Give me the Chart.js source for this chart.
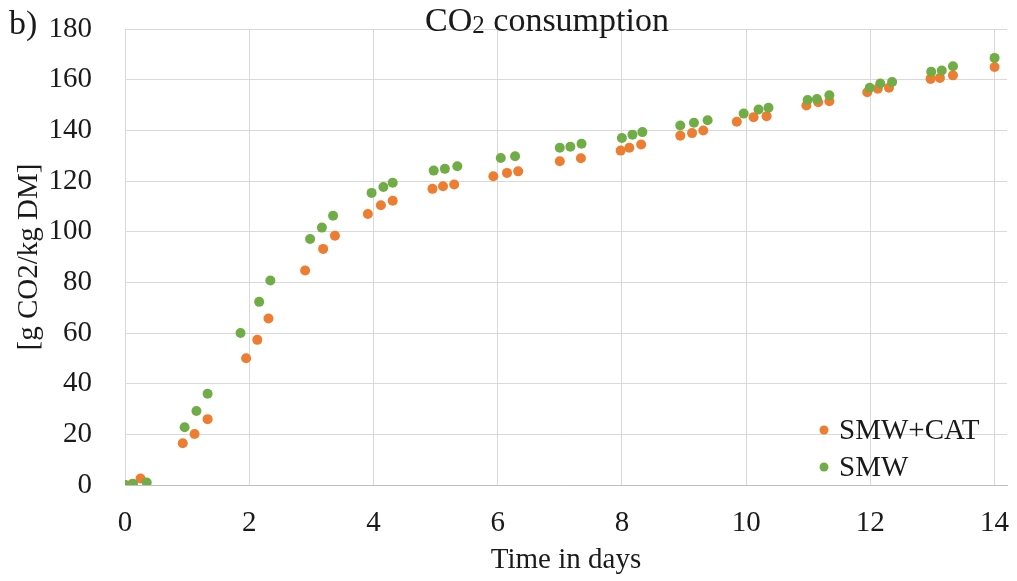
<!DOCTYPE html>
<html>
<head>
<meta charset="utf-8">
<script src="https://cdn.jsdelivr.net/npm/chart.js@4.4.0/dist/chart.umd.min.js"></script>
<style>
  html, body { margin: 0; padding: 0; background: #fff; }
  #wrap { width: 1017px; height: 581px; position: relative; }
</style>
</head>
<body>
<div id="wrap"><canvas id="myChart"></canvas></div>
<script>
// time (days) and CO2 consumption for both mixtures
const catDays = [0, 0.12, 0.25, 0.93, 1.12, 1.33, 1.95, 2.13, 2.31, 2.9, 3.19, 3.38, 3.91, 4.12, 4.31,
  4.95, 5.12, 5.3, 5.93, 6.15, 6.33, 7.0, 7.34, 7.98, 8.12, 8.31, 8.94, 9.13, 9.31, 9.85, 10.12, 10.33,
  10.97, 11.16, 11.34, 11.95, 12.12, 12.3, 12.97, 13.12, 13.33, 14];
const catValues = [0, 0.5, 2.6, 16.5, 20.1, 26, 50, 57.3, 65.7, 84.7, 93.2, 98.4, 107, 110.4, 112.2,
  116.9, 117.9, 118.6, 121.9, 123.2, 123.8, 127.8, 129, 132, 133.1, 134.4, 137.9, 138.9, 139.9, 143.4, 145.2, 145.6,
  149.8, 151.1, 151.5, 155, 156.4, 156.8, 160.3, 160.7, 161.7, 165];

const smwDays = [0, 0.13, 0.35, 0.96, 1.15, 1.33, 1.86, 2.16, 2.34, 2.98, 3.17, 3.35, 3.97, 4.16, 4.31,
  4.97, 5.15, 5.35, 6.05, 6.28, 7.0, 7.17, 7.35, 8.0, 8.17, 8.33, 8.94, 9.16, 9.38, 9.96, 10.2, 10.36,
  10.99, 11.14, 11.34, 11.99, 12.16, 12.35, 12.98, 13.15, 13.33, 14];
const smwValues = [0, 0.4, 1, 22.8, 29.2, 36, 60, 72.3, 80.7, 97.1, 101.6, 106.3, 115.3, 117.6, 119.3,
  124.1, 124.8, 125.8, 129.1, 129.8, 133.1, 133.5, 134.7, 137, 138.3, 139.3, 141.9, 143, 144, 146.6, 148.2, 148.9,
  152, 152.4, 153.8, 156.8, 158.5, 159.1, 163.1, 163.6, 165.3, 168.6];

const seriesNames = ["SMW+CAT", "SMW"];
const xTicks = [0, 2, 4, 6, 8, 10, 12, 14];
const yTicks = [0, 20, 40, 60, 80, 100, 120, 140, 160, 180];

const colors = ["#ED7D31", "#70AD47"];
const serif = "'Liberation Serif', 'Times New Roman', serif";
const gridColor = "#d9d9d9";

function toPoints(xs, ys) {
  return xs.map((x, i) => ({ x: x, y: ys[i] }));
}

// title, y axis title, panel letter and legend drawn by hand
const extras = {
  id: "extras",
  afterDraw(chart) {
    const ctx = chart.ctx;
    const area = chart.chartArea;
    ctx.save();
    ctx.fillStyle = "#1a1a1a";
    ctx.textBaseline = "middle";

    // panel letter
    ctx.font = "34px " + serif;
    ctx.textAlign = "left";
    ctx.fillText("b)", 9, 25);

    // title with subscript
    const big = "34px " + serif, small = "25px " + serif;
    ctx.font = big;
    const w1 = ctx.measureText("CO").width;
    const w3 = ctx.measureText(" consumption").width;
    ctx.font = small;
    const w2 = ctx.measureText("2").width;
    const tx = 547 - (w1 + w2 + w3) / 2;
    const ty = 22;
    ctx.font = big;
    ctx.fillText("CO", tx, ty);
    ctx.font = small;
    ctx.fillText("2", tx + w1, ty + 4);
    ctx.font = big;
    ctx.fillText(" consumption", tx + w1 + w2, ty);

    // y axis title
    ctx.save();
    ctx.translate(29, (area.top + area.bottom) / 2);
    ctx.rotate(-Math.PI / 2);
    ctx.textAlign = "center";
    ctx.font = "29px " + serif;
    ctx.fillText("[g CO2/kg DM]", 0, 0);
    ctx.restore();

    // legend inside plot, bottom right
    ctx.font = "29px " + serif;
    ctx.textAlign = "left";
    seriesNames.forEach((name, i) => {
      const ly = area.bottom - 55 + i * 37;
      ctx.beginPath();
      ctx.fillStyle = colors[i];
      ctx.arc(area.right - 183, ly, 4.5, 0, Math.PI * 2);
      ctx.fill();
      ctx.fillStyle = "#1a1a1a";
      ctx.fillText(name, area.right - 168, ly + 1);
    });
    ctx.restore();
  }
};

new Chart("myChart", {
  type: "scatter",
  data: {
    datasets: [{
      label: seriesNames[0],
      data: toPoints(catDays, catValues),
      backgroundColor: colors[0],
      borderColor: colors[0],
      pointRadius: 5,
      borderWidth: 0,
      order: 1
    }, {
      label: seriesNames[1],
      data: toPoints(smwDays, smwValues),
      backgroundColor: colors[1],
      borderColor: colors[1],
      pointRadius: 5,
      borderWidth: 0,
      order: 0
    }]
  },
  options: {
    responsive: true,
    maintainAspectRatio: false,
    animation: false,
    layout: { padding: { top: 29, right: 10, bottom: 0, left: 0 } },
    plugins: {
      legend: { display: false },
      title: { display: false },
      tooltip: { enabled: false }
    },
    scales: {
      x: {
        type: "linear",
        min: 0,
        max: 14.2,
        afterBuildTicks(scale) { scale.ticks = xTicks.map(v => ({ value: v })); },
        afterFit(scale) {
          scale.height = 96;
          scale.paddingLeft = 0;
          scale.paddingRight = 0;
        },
        grid: { color: gridColor, drawTicks: false },
        border: { color: "#bfbfbf" },
        ticks: { padding: 21, color: "#1a1a1a", font: { family: serif, size: 29 } },
        title: {
          display: true,
          text: "Time in days",
          color: "#1a1a1a",
          font: { family: serif, size: 29 },
          padding: { top: 0, bottom: 3 }
        }
      },
      y: {
        min: 0,
        max: 180,
        afterBuildTicks(scale) { scale.ticks = yTicks.map(v => ({ value: v })); },
        afterFit(scale) {
          scale.width = 125;
          scale.paddingTop = 0;
          scale.paddingBottom = 0;
        },
        grid: { color: gridColor, drawTicks: false },
        border: { color: gridColor },
        ticks: { padding: 33, color: "#1a1a1a", font: { family: serif, size: 29 } }
      }
    }
  },
  plugins: [extras]
});
</script>
</body>
</html>
